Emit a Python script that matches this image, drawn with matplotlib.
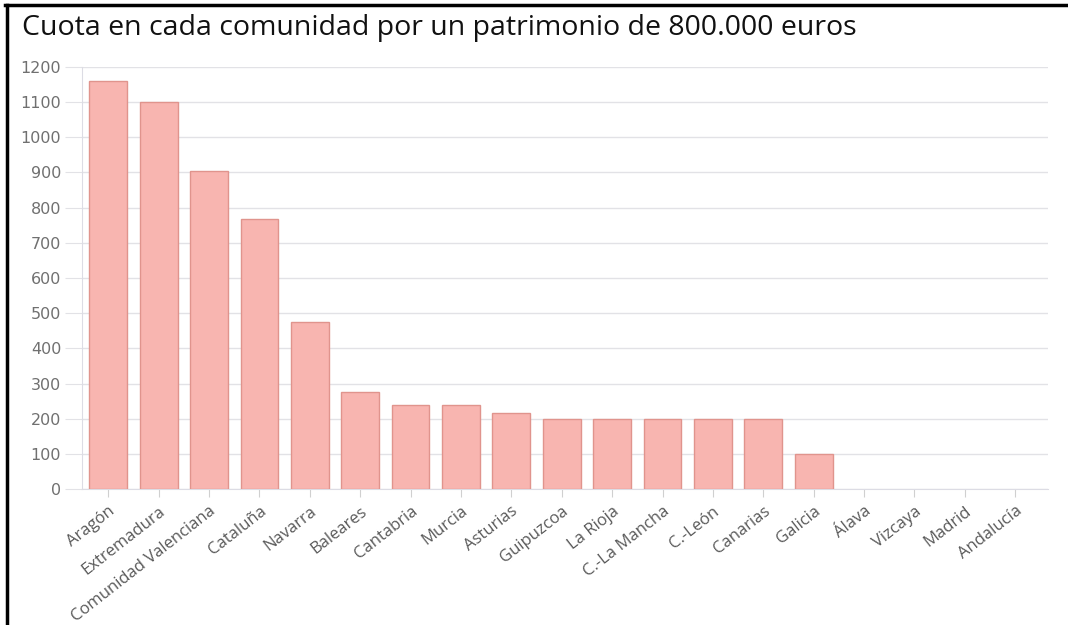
import matplotlib
matplotlib.use("Agg")
import matplotlib.pyplot as plt
from matplotlib.lines import Line2D

categories = ["Aragón", "Extremadura", "Comunidad Valenciana", "Cataluña", "Navarra",
              "Baleares", "Cantabria", "Murcia", "Asturias", "Guipuzcoa", "La Rioja",
              "C.-La Mancha", "C.-León", "Canarias", "Galicia", "Álava", "Vizcaya",
              "Madrid", "Andalucía"]
values = [1160, 1100, 905, 768, 474, 277, 238, 238, 217, 200, 200, 200, 200, 200, 100,
          0, 0, 0, 0]
yticks = list(range(0, 1300, 100))
title = "Cuota en cada comunidad por un patrimonio de 800.000 euros"

fig = plt.figure(figsize=(10.68, 6.25), dpi=100)
ax = fig.add_axes([0.0768, 0.2171, 0.9045, 0.6762])

x = list(range(len(categories)))
edges = ["#e0948d" if v > 0 else "none" for v in values]
ax.bar(x, values, width=0.75, color="#f8b5b0", edgecolor=edges, linewidth=1.0, zorder=3)

ax.set_xlim(-0.52, 18.65)
ax.set_ylim(0, 1200)
ax.set_yticks(yticks)
ax.set_yticklabels([str(v) for v in yticks], fontsize=11.5, color="#707070",
                   family="DejaVu Sans")
ax.grid(axis="y", color="#e2e2e6", linewidth=1.0, zorder=0)
ax.set_axisbelow(True)

ax.set_xticks(x)
ax.set_xticklabels(categories, rotation=38, ha="right", rotation_mode="anchor",
                   fontsize=12, color="#5a5a5a", family="Open Sans")

for s in ["top", "right"]:
    ax.spines[s].set_visible(False)
ax.spines["left"].set_color("#dcdce4")
ax.spines["bottom"].set_color("#dcdce4")
ax.tick_params(axis="y", length=12, color="#e2e2e6", pad=3)
ax.tick_params(axis="x", length=6, color="#d0d0d0", pad=4)

fig.text(22 / 1068, 1 - 28 / 625, title, fontsize=20.5, family="Open Sans",
         color="#111111", ha="left", va="center")

# black frame (top and left edges of the screenshot)
fig.add_artist(Line2D([5 / 1068, 1.0], [1 - 5 / 625, 1 - 5 / 625],
                      transform=fig.transFigure, color="black", linewidth=2.5))
fig.add_artist(Line2D([7 / 1068, 7 / 1068], [0, 1 - 5 / 625],
                      transform=fig.transFigure, color="black", linewidth=2.5))

fig.savefig("out.png", dpi=100, facecolor="white")
